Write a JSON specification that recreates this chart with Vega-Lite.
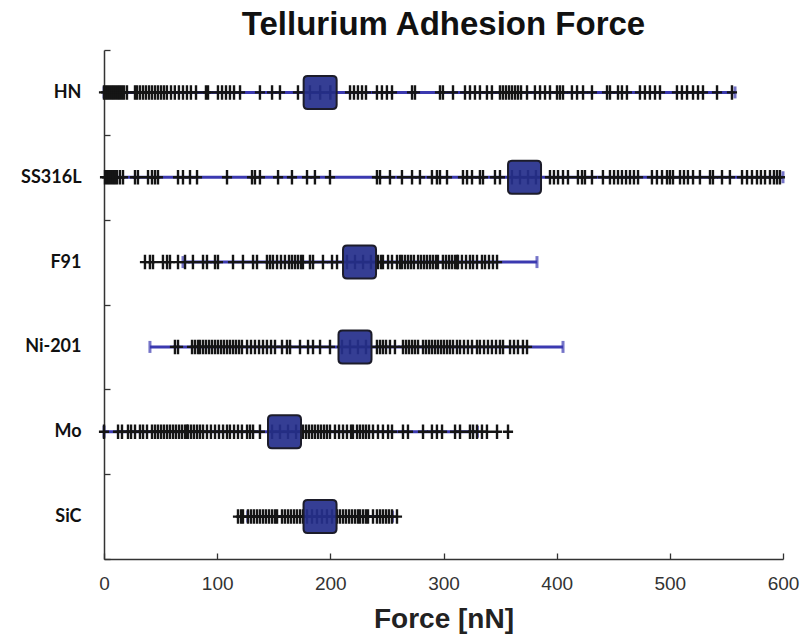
{
  "$schema": "https://vega.github.io/schema/vega-lite/v6.json",
  "autosize": {"type": "none"},
  "padding": {"left": 104, "top": 50, "right": 21, "bottom": 75},
  "width": 679,
  "height": 509,
  "background": "white",
  "title": {
    "text": "Tellurium Adhesion Force",
    "font": "Liberation Sans",
    "fontSize": 33,
    "fontWeight": "bold",
    "color": "#111111",
    "anchor": "middle",
    "frame": "group",
    "offset": 7,
    "dy": 8
  },
  "datasets": {
    "summary": [
      {"material": "HN", "mean": 191, "lo": 0, "hi": 557.6},
      {"material": "SS316L", "mean": 371.6, "lo": 1.5, "hi": 600},
      {"material": "F91", "mean": 225.8, "lo": 69.8, "hi": 382.6},
      {"material": "Ni-201", "mean": 221.8, "lo": 40.6, "hi": 405.6},
      {"material": "Mo", "mean": 159.5, "lo": 0, "hi": 330},
      {"material": "SiC", "mean": 190.9, "lo": 127, "hi": 255}
    ],
    "points": [
      {"material":"HN","force":0},{"material":"HN","force":1.8},{"material":"HN","force":3.5},{"material":"HN","force":5.3},{"material":"HN","force":7.1},{"material":"HN","force":8.8},{"material":"HN","force":10.6},{"material":"HN","force":12.4},{"material":"HN","force":14.1},{"material":"HN","force":15.9},{"material":"HN","force":17.7},{"material":"HN","force":20.3},{"material":"HN","force":27.4},{"material":"HN","force":29.2},{"material":"HN","force":31.8},{"material":"HN","force":34.5},{"material":"HN","force":37.1},{"material":"HN","force":39.8},{"material":"HN","force":42.4},{"material":"HN","force":45.1},{"material":"HN","force":47.7},{"material":"HN","force":50.4},{"material":"HN","force":53},{"material":"HN","force":55.6},{"material":"HN","force":59.2},{"material":"HN","force":62.6},{"material":"HN","force":66.2},{"material":"HN","force":69.8},{"material":"HN","force":73.3},{"material":"HN","force":76.8},{"material":"HN","force":81.3},{"material":"HN","force":90.1},{"material":"HN","force":91.9},{"material":"HN","force":100.7},{"material":"HN","force":104.3},{"material":"HN","force":107.8},{"material":"HN","force":111.3},{"material":"HN","force":114.9},{"material":"HN","force":120.2},{"material":"HN","force":137.8},{"material":"HN","force":148.5},{"material":"HN","force":155.5},{"material":"HN","force":171.4},{"material":"HN","force":182},{"material":"HN","force":191},{"material":"HN","force":200},{"material":"HN","force":217.4},{"material":"HN","force":220.9},{"material":"HN","force":224.4},{"material":"HN","force":228},{"material":"HN","force":231.5},{"material":"HN","force":241.2},{"material":"HN","force":245.6},{"material":"HN","force":250},{"material":"HN","force":254.5},{"material":"HN","force":272.2},{"material":"HN","force":274.8},{"material":"HN","force":296.9},{"material":"HN","force":299.5},{"material":"HN","force":308.4},{"material":"HN","force":319},{"material":"HN","force":323.4},{"material":"HN","force":327.8},{"material":"HN","force":332.2},{"material":"HN","force":338.4},{"material":"HN","force":342.8},{"material":"HN","force":349.9},{"material":"HN","force":352.5},{"material":"HN","force":355.2},{"material":"HN","force":357.9},{"material":"HN","force":360.5},{"material":"HN","force":363.2},{"material":"HN","force":365.8},{"material":"HN","force":368.5},{"material":"HN","force":373.8},{"material":"HN","force":380.8},{"material":"HN","force":385.3},{"material":"HN","force":389.7},{"material":"HN","force":394.1},{"material":"HN","force":400.3},{"material":"HN","force":402.9},{"material":"HN","force":405.6},{"material":"HN","force":413.5},{"material":"HN","force":418},{"material":"HN","force":423.3},{"material":"HN","force":431.2},{"material":"HN","force":444.5},{"material":"HN","force":447.1},{"material":"HN","force":454.2},{"material":"HN","force":457.7},{"material":"HN","force":462.1},{"material":"HN","force":473.6},{"material":"HN","force":478},{"material":"HN","force":482.4},{"material":"HN","force":486.9},{"material":"HN","force":491.3},{"material":"HN","force":506.3},{"material":"HN","force":510.7},{"material":"HN","force":515.2},{"material":"HN","force":520.5},{"material":"HN","force":524.9},{"material":"HN","force":529.3},{"material":"HN","force":541.7},{"material":"HN","force":554.9},
      {"material":"SS316L","force":0.9},{"material":"SS316L","force":2.7},{"material":"SS316L","force":4.4},{"material":"SS316L","force":6.2},{"material":"SS316L","force":8},{"material":"SS316L","force":9.7},{"material":"SS316L","force":11.5},{"material":"SS316L","force":14.1},{"material":"SS316L","force":16.8},{"material":"SS316L","force":27.4},{"material":"SS316L","force":30},{"material":"SS316L","force":38.9},{"material":"SS316L","force":42.4},{"material":"SS316L","force":45.1},{"material":"SS316L","force":47.7},{"material":"SS316L","force":65.4},{"material":"SS316L","force":69.8},{"material":"SS316L","force":76},{"material":"SS316L","force":82.2},{"material":"SS316L","force":108.7},{"material":"SS316L","force":130.8},{"material":"SS316L","force":133.4},{"material":"SS316L","force":137.8},{"material":"SS316L","force":153.8},{"material":"SS316L","force":166.1},{"material":"SS316L","force":179.4},{"material":"SS316L","force":186.4},{"material":"SS316L","force":199.7},{"material":"SS316L","force":241.2},{"material":"SS316L","force":243.9},{"material":"SS316L","force":252.7},{"material":"SS316L","force":263.3},{"material":"SS316L","force":272.2},{"material":"SS316L","force":279.2},{"material":"SS316L","force":289.8},{"material":"SS316L","force":294.2},{"material":"SS316L","force":296.9},{"material":"SS316L","force":303.1},{"material":"SS316L","force":317.2},{"material":"SS316L","force":320.8},{"material":"SS316L","force":325.2},{"material":"SS316L","force":332.2},{"material":"SS316L","force":334.9},{"material":"SS316L","force":345.5},{"material":"SS316L","force":349.9},{"material":"SS316L","force":360.5},{"material":"SS316L","force":367.6},{"material":"SS316L","force":374.7},{"material":"SS316L","force":381.7},{"material":"SS316L","force":394.1},{"material":"SS316L","force":397.6},{"material":"SS316L","force":401.2},{"material":"SS316L","force":405.6},{"material":"SS316L","force":410},{"material":"SS316L","force":418.8},{"material":"SS316L","force":422.4},{"material":"SS316L","force":425},{"material":"SS316L","force":431.2},{"material":"SS316L","force":440.9},{"material":"SS316L","force":447.1},{"material":"SS316L","force":450.7},{"material":"SS316L","force":454.2},{"material":"SS316L","force":457.7},{"material":"SS316L","force":461.3},{"material":"SS316L","force":464.8},{"material":"SS316L","force":468.3},{"material":"SS316L","force":471.9},{"material":"SS316L","force":484.2},{"material":"SS316L","force":488.6},{"material":"SS316L","force":493.1},{"material":"SS316L","force":497.5},{"material":"SS316L","force":500.1},{"material":"SS316L","force":502.8},{"material":"SS316L","force":509},{"material":"SS316L","force":512.5},{"material":"SS316L","force":516},{"material":"SS316L","force":520.5},{"material":"SS316L","force":526.6},{"material":"SS316L","force":535.5},{"material":"SS316L","force":538.1},{"material":"SS316L","force":546.1},{"material":"SS316L","force":553.1},{"material":"SS316L","force":563.8},{"material":"SS316L","force":568.2},{"material":"SS316L","force":572.6},{"material":"SS316L","force":577},{"material":"SS316L","force":580.5},{"material":"SS316L","force":584.1},{"material":"SS316L","force":588.5},{"material":"SS316L","force":592},{"material":"SS316L","force":594.7},{"material":"SS316L","force":597.3},
      {"material":"F91","force":36.2},{"material":"F91","force":40.6},{"material":"F91","force":43.3},{"material":"F91","force":52.1},{"material":"F91","force":55.7},{"material":"F91","force":58.3},{"material":"F91","force":65.4},{"material":"F91","force":71.6},{"material":"F91","force":78.6},{"material":"F91","force":87.5},{"material":"F91","force":91},{"material":"F91","force":98.1},{"material":"F91","force":100.7},{"material":"F91","force":114},{"material":"F91","force":122.8},{"material":"F91","force":131.7},{"material":"F91","force":135.2},{"material":"F91","force":144},{"material":"F91","force":146.7},{"material":"F91","force":149.3},{"material":"F91","force":152.9},{"material":"F91","force":156.4},{"material":"F91","force":159.9},{"material":"F91","force":163.5},{"material":"F91","force":166.1},{"material":"F91","force":168.8},{"material":"F91","force":171.4},{"material":"F91","force":174.1},{"material":"F91","force":175.8},{"material":"F91","force":182},{"material":"F91","force":184.7},{"material":"F91","force":193.5},{"material":"F91","force":201.5},{"material":"F91","force":205.9},{"material":"F91","force":214.7},{"material":"F91","force":221.8},{"material":"F91","force":228.9},{"material":"F91","force":235.9},{"material":"F91","force":242.1},{"material":"F91","force":244.8},{"material":"F91","force":246.5},{"material":"F91","force":251},{"material":"F91","force":254.5},{"material":"F91","force":258.9},{"material":"F91","force":261.6},{"material":"F91","force":263.3},{"material":"F91","force":266},{"material":"F91","force":268.7},{"material":"F91","force":271.3},{"material":"F91","force":273.9},{"material":"F91","force":277.5},{"material":"F91","force":280.1},{"material":"F91","force":282.8},{"material":"F91","force":285.4},{"material":"F91","force":288.1},{"material":"F91","force":290.7},{"material":"F91","force":293.4},{"material":"F91","force":295.1},{"material":"F91","force":299.5},{"material":"F91","force":302.2},{"material":"F91","force":304.9},{"material":"F91","force":307.5},{"material":"F91","force":310.2},{"material":"F91","force":311.9},{"material":"F91","force":312.8},{"material":"F91","force":316.3},{"material":"F91","force":319.9},{"material":"F91","force":323.4},{"material":"F91","force":326.1},{"material":"F91","force":329.6},{"material":"F91","force":334},{"material":"F91","force":336.7},{"material":"F91","force":340.2},{"material":"F91","force":343.7},{"material":"F91","force":347.3},
      {"material":"Ni-201","force":62.7},{"material":"Ni-201","force":65.4},{"material":"Ni-201","force":77.8},{"material":"Ni-201","force":80.4},{"material":"Ni-201","force":83.1},{"material":"Ni-201","force":84.8},{"material":"Ni-201","force":87.5},{"material":"Ni-201","force":90.1},{"material":"Ni-201","force":92.8},{"material":"Ni-201","force":95.4},{"material":"Ni-201","force":98.1},{"material":"Ni-201","force":100.7},{"material":"Ni-201","force":103.4},{"material":"Ni-201","force":106},{"material":"Ni-201","force":108.7},{"material":"Ni-201","force":111.3},{"material":"Ni-201","force":114},{"material":"Ni-201","force":116.6},{"material":"Ni-201","force":119.3},{"material":"Ni-201","force":121.9},{"material":"Ni-201","force":126.4},{"material":"Ni-201","force":129.9},{"material":"Ni-201","force":133.4},{"material":"Ni-201","force":137},{"material":"Ni-201","force":140.5},{"material":"Ni-201","force":144},{"material":"Ni-201","force":147.6},{"material":"Ni-201","force":151.1},{"material":"Ni-201","force":157.3},{"material":"Ni-201","force":161.7},{"material":"Ni-201","force":164.4},{"material":"Ni-201","force":173.2},{"material":"Ni-201","force":180.3},{"material":"Ni-201","force":184.7},{"material":"Ni-201","force":190.9},{"material":"Ni-201","force":199.7},{"material":"Ni-201","force":210.3},{"material":"Ni-201","force":217.4},{"material":"Ni-201","force":224.4},{"material":"Ni-201","force":231.5},{"material":"Ni-201","force":241.2},{"material":"Ni-201","force":243.9},{"material":"Ni-201","force":246.5},{"material":"Ni-201","force":249.2},{"material":"Ni-201","force":252.7},{"material":"Ni-201","force":257.1},{"material":"Ni-201","force":264.2},{"material":"Ni-201","force":266.9},{"material":"Ni-201","force":269.5},{"material":"Ni-201","force":272.2},{"material":"Ni-201","force":274.8},{"material":"Ni-201","force":277.5},{"material":"Ni-201","force":281.9},{"material":"Ni-201","force":284.5},{"material":"Ni-201","force":287.2},{"material":"Ni-201","force":289.8},{"material":"Ni-201","force":292.5},{"material":"Ni-201","force":295.1},{"material":"Ni-201","force":297.8},{"material":"Ni-201","force":300.4},{"material":"Ni-201","force":303.1},{"material":"Ni-201","force":305.7},{"material":"Ni-201","force":308.4},{"material":"Ni-201","force":311.9},{"material":"Ni-201","force":314.6},{"material":"Ni-201","force":318.1},{"material":"Ni-201","force":321.6},{"material":"Ni-201","force":325.2},{"material":"Ni-201","force":329.6},{"material":"Ni-201","force":332.2},{"material":"Ni-201","force":335.8},{"material":"Ni-201","force":339.3},{"material":"Ni-201","force":342.8},{"material":"Ni-201","force":346.4},{"material":"Ni-201","force":349.9},{"material":"Ni-201","force":352.6},{"material":"Ni-201","force":358.8},{"material":"Ni-201","force":362.3},{"material":"Ni-201","force":365.8},{"material":"Ni-201","force":370.2},{"material":"Ni-201","force":373.8},
      {"material":"Mo","force":0},{"material":"Mo","force":12.4},{"material":"Mo","force":15.9},{"material":"Mo","force":21.2},{"material":"Mo","force":23.9},{"material":"Mo","force":27.4},{"material":"Mo","force":31.8},{"material":"Mo","force":34.5},{"material":"Mo","force":38},{"material":"Mo","force":42.4},{"material":"Mo","force":45.1},{"material":"Mo","force":47.7},{"material":"Mo","force":50.4},{"material":"Mo","force":53},{"material":"Mo","force":55.7},{"material":"Mo","force":58.3},{"material":"Mo","force":61},{"material":"Mo","force":63.6},{"material":"Mo","force":66.3},{"material":"Mo","force":68.9},{"material":"Mo","force":71.6},{"material":"Mo","force":73.3},{"material":"Mo","force":74.2},{"material":"Mo","force":76.9},{"material":"Mo","force":79.5},{"material":"Mo","force":82.2},{"material":"Mo","force":84.8},{"material":"Mo","force":87.5},{"material":"Mo","force":91},{"material":"Mo","force":94.5},{"material":"Mo","force":98.1},{"material":"Mo","force":101.6},{"material":"Mo","force":105.2},{"material":"Mo","force":108.7},{"material":"Mo","force":111.3},{"material":"Mo","force":114.9},{"material":"Mo","force":118.4},{"material":"Mo","force":121.9},{"material":"Mo","force":126.4},{"material":"Mo","force":129},{"material":"Mo","force":131.7},{"material":"Mo","force":137.8},{"material":"Mo","force":148.5},{"material":"Mo","force":155.5},{"material":"Mo","force":162.6},{"material":"Mo","force":169.7},{"material":"Mo","force":175.8},{"material":"Mo","force":178.5},{"material":"Mo","force":181.1},{"material":"Mo","force":183.8},{"material":"Mo","force":186.4},{"material":"Mo","force":189.1},{"material":"Mo","force":191.7},{"material":"Mo","force":194.4},{"material":"Mo","force":197},{"material":"Mo","force":199.7},{"material":"Mo","force":204.1},{"material":"Mo","force":207.7},{"material":"Mo","force":211.2},{"material":"Mo","force":214.7},{"material":"Mo","force":218.3},{"material":"Mo","force":220},{"material":"Mo","force":223.6},{"material":"Mo","force":226.2},{"material":"Mo","force":228.9},{"material":"Mo","force":231.5},{"material":"Mo","force":234.2},{"material":"Mo","force":237.7},{"material":"Mo","force":242.1},{"material":"Mo","force":246.5},{"material":"Mo","force":251},{"material":"Mo","force":254.5},{"material":"Mo","force":264.2},{"material":"Mo","force":268.6},{"material":"Mo","force":281.9},{"material":"Mo","force":289.8},{"material":"Mo","force":294.2},{"material":"Mo","force":298.7},{"material":"Mo","force":310.2},{"material":"Mo","force":314.6},{"material":"Mo","force":323.4},{"material":"Mo","force":326.1},{"material":"Mo","force":329.6},{"material":"Mo","force":334},{"material":"Mo","force":338.4},{"material":"Mo","force":347.3},{"material":"Mo","force":357},
      {"material":"SiC","force":118.4},{"material":"SiC","force":121.1},{"material":"SiC","force":122.8},{"material":"SiC","force":127.2},{"material":"SiC","force":129.9},{"material":"SiC","force":132.5},{"material":"SiC","force":135.2},{"material":"SiC","force":137.8},{"material":"SiC","force":140.5},{"material":"SiC","force":143.1},{"material":"SiC","force":145.8},{"material":"SiC","force":148.5},{"material":"SiC","force":151.1},{"material":"SiC","force":152.9},{"material":"SiC","force":157.3},{"material":"SiC","force":159.9},{"material":"SiC","force":162.6},{"material":"SiC","force":165.2},{"material":"SiC","force":167.9},{"material":"SiC","force":170.5},{"material":"SiC","force":173.2},{"material":"SiC","force":175.8},{"material":"SiC","force":179.4},{"material":"SiC","force":183.8},{"material":"SiC","force":188.2},{"material":"SiC","force":192.6},{"material":"SiC","force":197},{"material":"SiC","force":201.5},{"material":"SiC","force":205.9},{"material":"SiC","force":208.5},{"material":"SiC","force":211.2},{"material":"SiC","force":213.8},{"material":"SiC","force":216.5},{"material":"SiC","force":219.1},{"material":"SiC","force":221.8},{"material":"SiC","force":224.4},{"material":"SiC","force":226.2},{"material":"SiC","force":228.9},{"material":"SiC","force":231.5},{"material":"SiC","force":233.3},{"material":"SiC","force":237.7},{"material":"SiC","force":241.2},{"material":"SiC","force":243.9},{"material":"SiC","force":246.5},{"material":"SiC","force":249.2},{"material":"SiC","force":251.8},{"material":"SiC","force":254.5},{"material":"SiC","force":258.9}
    ]
  },
  "encoding": {
    "y": {
      "field": "material",
      "type": "nominal",
      "sort": ["HN", "SS316L", "F91", "Ni-201", "Mo", "SiC"],
      "scale": {"paddingInner": 0, "paddingOuter": 0},
      "axis": {
        "title": null,
        "tickBand": "extent",
        "labelFont": "Lato",
        "labelFontWeight": "bold",
        "labelFontSize": 18,
        "labelColor": "#111111",
        "labelPadding": 29
      }
    }
  },
  "layer": [
    {
      "data": {"name": "summary"},
      "mark": {"type": "rule", "color": "#3b39b0", "strokeWidth": 3},
      "encoding": {
        "x": {
          "field": "lo",
          "type": "quantitative",
          "title": "Force [nN]",
          "scale": {"domain": [0, 600], "nice": false, "zero": false},
          "axis": {
            "values": [0, 100, 200, 300, 400, 500, 600],
            "labelFlush": false,
            "labelFont": "Liberation Sans",
            "labelFontSize": 19,
            "labelColor": "#333333",
            "labelPadding": 21,
            "titleFont": "Liberation Sans",
            "titleFontSize": 28,
            "titleFontWeight": "bold",
            "titleColor": "#222222",
            "titleBaseline": "alphabetic",
            "titleY": 68
          }
        },
        "x2": {"field": "hi"}
      }
    },
    {
      "data": {"name": "summary"},
      "mark": {"type": "tick", "color": "#3b39b0", "size": 12, "thickness": 3},
      "encoding": {"x": {"field": "lo", "type": "quantitative", "title": "Force [nN]"}}
    },
    {
      "data": {"name": "summary"},
      "mark": {"type": "tick", "color": "#3b39b0", "size": 12, "thickness": 3},
      "encoding": {"x": {"field": "hi", "type": "quantitative", "title": "Force [nN]"}}
    },
    {
      "data": {"name": "points"},
      "mark": {
        "type": "point",
        "shape": "M-0.7,0H0.7M0,-1V1",
        "filled": false,
        "size": 210,
        "stroke": "#151515",
        "strokeWidth": 2.4,
        "opacity": 1
      },
      "encoding": {"x": {"field": "force", "type": "quantitative", "title": "Force [nN]"}}
    },
    {
      "data": {"name": "summary"},
      "mark": {
        "type": "point",
        "shape": "M-0.76,-1H0.76Q1,-1 1,-0.76V0.76Q1,1 0.76,1H-0.76Q-1,1 -1,0.76V-0.76Q-1,-1 -0.76,-1Z",
        "filled": true,
        "size": 1089,
        "fill": "#262f8c",
        "fillOpacity": 0.93,
        "stroke": "#1c1c2a",
        "strokeWidth": 2,
        "opacity": 1
      },
      "encoding": {"x": {"field": "mean", "type": "quantitative", "title": "Force [nN]"}}
    }
  ],
  "config": {
    "view": {"stroke": null},
    "axis": {
      "grid": false,
      "domainColor": "#333333",
      "domainWidth": 1.5,
      "tickColor": "#333333",
      "tickWidth": 1.3,
      "tickSize": -6
    }
  }
}
